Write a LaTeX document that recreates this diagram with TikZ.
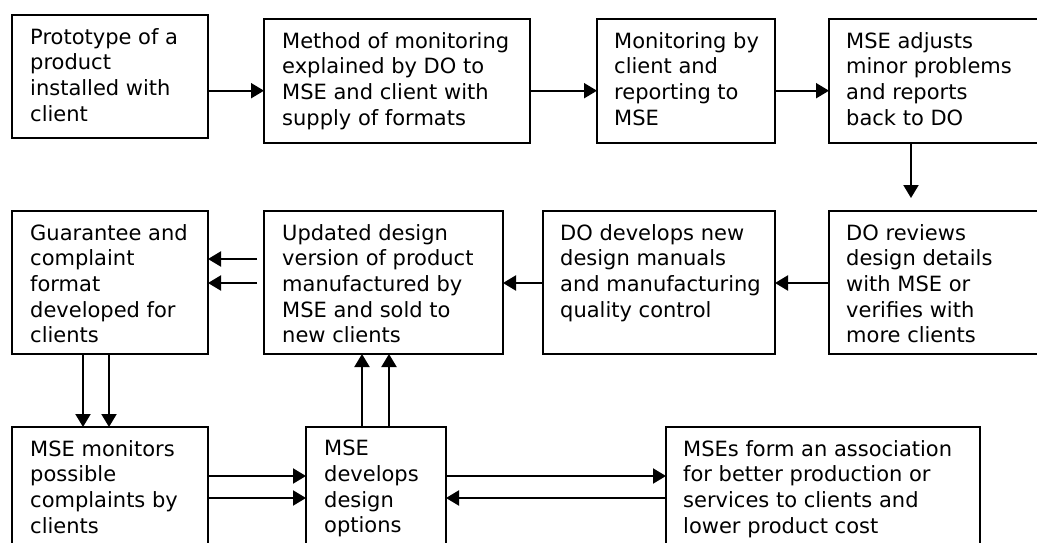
\documentclass[tikz,border=0pt]{standalone}
\usepackage{fontspec}
\setmainfont{DejaVu Sans}
\usetikzlibrary{arrows.meta,calc}

\tikzset{
  box/.style={draw, line width=2pt, anchor=north west, inner sep=0pt, outer sep=0pt},
  txt/.style={anchor=north west, align=left, inner sep=0pt,
    font=\fontsize{21pt}{25.7pt}\selectfont, execute at begin node=\strut},
  arr/.style={line width=2pt, -{Triangle[length=13pt,width=15pt]}},
}

\begin{document}
\begin{tikzpicture}[x=1pt, y=-1pt]
  \path[use as bounding box] (0,0) rectangle (1037,542);
  \clip (0,0) rectangle (1037,542);

  % first row
  \node[box, minimum width=196pt, minimum height=123pt] (b1) at (12,15) {};
  \node[box, minimum width=266pt, minimum height=124pt] (b2) at (264,19) {};
  \node[box, minimum width=178pt, minimum height=124pt] (b3) at (597,19) {};
  \node[box, minimum width=220pt, minimum height=124pt] (b4) at (829,19) {};

  % second row
  \node[box, minimum width=196pt, minimum height=143pt] (b5) at (12,211) {};
  \node[box, minimum width=239pt, minimum height=143pt] (b6) at (264,211) {};
  \node[box, minimum width=232pt, minimum height=143pt] (b7) at (543,211) {};
  \node[box, minimum width=220pt, minimum height=143pt] (b8) at (829,211) {};

  % third row
  \node[box, minimum width=196pt, minimum height=140pt] (b9) at (12,427) {};
  \node[box, minimum width=140pt, minimum height=140pt] (b10) at (306,427) {};
  \node[box, minimum width=314pt, minimum height=140pt] (b11) at (666,427) {};

  % box texts (first baseline 31pt below the top edge; strut height is 18pt)
  \node[txt] (t1) at ($(b1.north west)+(18,13)$) {Prototype of a\\product\\installed with\\client};
  \node[txt] (t2) at ($(b2.north west)+(18,13)$) {Method of monitoring\\explained by DO to\\MSE and client with\\supply of formats};
  \node[txt] (t3) at ($(b3.north west)+(17,13)$) {Monitoring by\\client and\\reporting to\\MSE};
  \node[txt] (t4) at ($(b4.north west)+(17,13)$) {MSE adjusts\\minor problems\\and reports\\back to DO};
  \node[txt] (t5) at ($(b5.north west)+(18,13)$) {Guarantee and\\complaint\\format\\developed for\\clients};
  \node[txt] (t6) at ($(b6.north west)+(18,13)$) {Updated design\\version of product\\manufactured by\\MSE and sold to\\new clients};
  \node[txt] (t7) at ($(b7.north west)+(17,13)$) {DO develops new\\design manuals\\and manufacturing\\quality control};
  \node[txt] (t8) at ($(b8.north west)+(17,13)$) {DO reviews\\design details\\with MSE or\\verifies with\\more clients};
  \node[txt] (t9) at ($(b9.north west)+(18,13)$) {MSE monitors\\possible\\complaints by\\clients};
  \node[txt] (t10) at ($(b10.north west)+(18,13)$) {MSE\\develops\\design\\options};
  \node[txt] (t11) at ($(b11.north west)+(17,13)$) {MSEs form an association\\for better production or\\services to clients and\\lower product cost};

  % first row flow
  \draw[arr] (b1.east |- 0,90.7) -- (b2.west |- 0,90.7);
  \draw[arr] (b2.east |- 0,90.7) -- (b3.west |- 0,90.7);
  \draw[arr] (b3.east |- 0,90.7) -- (b4.west |- 0,90.7);
  \draw[arr] (b4.south -| 911,0) -- ($(b8.north -| 911,0)+(0,-13)$);

  % second row flow
  \draw[arr] (b8.west |- 0,283) -- (b7.east |- 0,283);
  \draw[arr] (b7.west |- 0,283) -- (b6.east |- 0,283);
  \draw[arr] ($(b6.west |- 0,259)+(-7,0)$) -- (b5.east |- 0,259);
  \draw[arr] ($(b6.west |- 0,283)+(-7,0)$) -- (b5.east |- 0,283);

  % vertical links
  \draw[arr] (b5.south -| 83,0) -- (b9.north -| 83,0);
  \draw[arr] (b5.south -| 109,0) -- (b9.north -| 109,0);
  \draw[arr] (b10.north -| 362,0) -- (b6.south -| 362,0);
  \draw[arr] (b10.north -| 389,0) -- (b6.south -| 389,0);

  % third row flow
  \draw[arr] (b9.east |- 0,476) -- (b10.west |- 0,476);
  \draw[arr] (b9.east |- 0,498) -- (b10.west |- 0,498);
  \draw[arr] (b10.east |- 0,476) -- (b11.west |- 0,476);
  \draw[arr] (b11.west |- 0,498) -- (b10.east |- 0,498);
\end{tikzpicture}
\end{document}
